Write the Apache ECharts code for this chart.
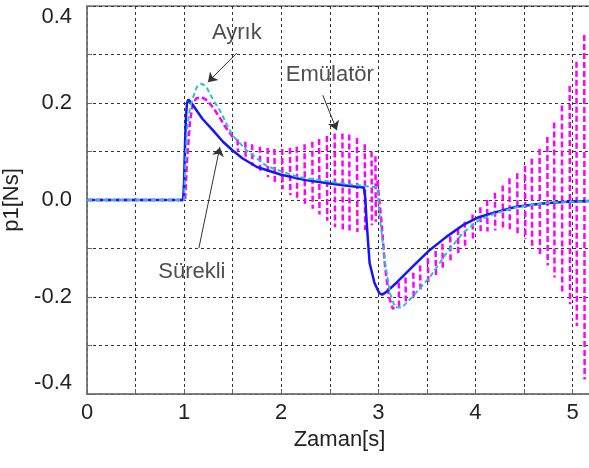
<!DOCTYPE html>
<html><head><meta charset="utf-8">
<script src="https://cdn.jsdelivr.net/npm/echarts@6/dist/echarts.min.js"></script>
<style>html,body{margin:0;padding:0;background:#fff}#c{width:589px;height:468px}</style>
</head><body><div id="c"></div>
<script>
// ---- data ----
const xTickLabels = ['0','1','2','3','4','5'];
const yTickLabels = ['-0.4','-0.2','0.0','0.2','0.4'];

const surekli = [[0,0],[0.99,0],[1.0,0.04],[1.01,0.12],[1.02,0.175],[1.03,0.2],[1.045,0.207],[1.09,0.196],[1.19,0.167],[1.3,0.143],[1.4,0.12],[1.5,0.102],[1.6,0.086],[1.75,0.068],[2.0,0.052],[2.25,0.041],[2.5,0.034],[2.7,0.029],[2.85,0.026],[2.865,0.005],[2.88,-0.047],[2.91,-0.13],[2.96,-0.171],[3.01,-0.192],[3.04,-0.195],[3.08,-0.19],[3.19,-0.17],[3.35,-0.138],[3.53,-0.103],[3.7,-0.076],[3.87,-0.052],[4.04,-0.035],[4.21,-0.025],[4.42,-0.014],[4.69,-0.007],[4.9,-0.004],[5.2,-0.002]];

const ayrik = [[0,0],[1.0,0],[1.01,0.06],[1.03,0.144],[1.06,0.19],[1.09,0.21],[1.13,0.233],[1.18,0.24],[1.23,0.233],[1.3,0.206],[1.37,0.184],[1.45,0.151],[1.5,0.133],[1.64,0.103],[1.85,0.07],[2.16,0.048],[2.6,0.035],[2.85,0.029],[2.99,0.026],[3.01,-0.027],[3.07,-0.13],[3.12,-0.192],[3.17,-0.221],[3.24,-0.222],[3.35,-0.2],[3.53,-0.159],[3.7,-0.11],[3.87,-0.068],[4.04,-0.041],[4.21,-0.027],[4.42,-0.015],[4.73,-0.006],[5.2,-0.002]];

// Emülatör: smooth parts, then oscillation columns (time, upper, lower)
const emuStart = [[0,0],[1.01,0],[1.03,0.08],[1.06,0.16],[1.09,0.2],[1.13,0.21],[1.18,0.212],[1.24,0.205],[1.3,0.19],[1.36,0.172],[1.42,0.152],[1.47,0.138],[1.52,0.125]];
const emuDrop  = [[2.99,0.04],[3.03,-0.04],[3.07,-0.14],[3.11,-0.2],[3.15,-0.225],[3.18,-0.215]];
const emuColT  = [1.55,1.63,1.70,1.78,1.86,1.93,2.01,2.09,2.16,2.24,2.32,2.39,2.47,2.55,2.63,2.70,2.78,2.86,2.93,2.97,
                  3.21,3.28,3.36,3.43,3.51,3.59,3.66,3.74,3.82,3.89,3.97,4.05,4.12,4.20,4.28,4.35,4.43,4.51,4.58,4.66,4.74,4.81,4.89,4.97,5.04,5.12];
const emuColHi = [0.125,0.12,0.115,0.11,0.107,0.105,0.105,0.107,0.11,0.115,0.12,0.126,0.132,0.137,0.137,0.135,0.128,0.115,0.1,0.09,
                  -0.17,-0.16,-0.15,-0.135,-0.12,-0.105,-0.09,-0.075,-0.06,-0.045,-0.03,-0.015,0.0,0.015,0.03,0.045,0.055,0.07,0.085,0.105,0.13,0.16,0.195,0.235,0.285,0.34];
const emuColLo = [0.1,0.085,0.07,0.058,0.047,0.035,0.022,0.01,0.002,-0.008,-0.018,-0.03,-0.043,-0.056,-0.064,-0.066,-0.066,-0.062,-0.052,-0.045,
                  -0.222,-0.215,-0.2,-0.19,-0.175,-0.16,-0.145,-0.13,-0.11,-0.095,-0.08,-0.07,-0.065,-0.063,-0.063,-0.065,-0.07,-0.08,-0.095,-0.115,-0.135,-0.16,-0.19,-0.215,-0.26,-0.37];

const annotations = [['Ayrık',1.543,0.344],['Emülatör',2.5,0.258],['Sürekli',1.08,-0.148]];
const arrows = [[[1.543,0.303],[1.245,0.243]],[[2.428,0.216],[2.572,0.144]],[[1.152,-0.099],[1.368,0.109]]];

// build the emulator polyline: smooth segments + short vertical strokes for each oscillation column
const emulator = [];
emuStart.forEach(p => emulator.push(p));
emulator.push([1.53, null]);
emuColT.forEach((t, i) => {
  if (t > 3.0 && emulator[emulator.length-1][0] < 3.0) {
    emuDrop.forEach(p => emulator.push(p));
    emulator.push([3.19, null]);
  }
  emulator.push([t, emuColHi[i]]);
  emulator.push([t + 0.004, emuColLo[i]]);
  emulator.push([t + 0.005, null]);
});

// ---- chart ----
const FONT = '"Liberation Sans", Arial, sans-serif';
const FS = 22;
const fmtY = v => { const s = (Math.round(v*10)/10).toFixed(1); return yTickLabels.includes(s) ? s : ''; };
const fmtX = v => { const s = String(Math.round(v*10)/10); return xTickLabels.includes(s) ? s : ''; };
const gridLine = {show:true, lineStyle:{color:'#333', width:1, type:[3,3]}};

const chart = echarts.init(document.getElementById('c'));
chart.setOption({
  animation:false,
  backgroundColor:'#fff',
  grid:{left:87, right:-3, top:6, bottom:74, containLabel:false, outerBoundsMode:'none',
    show:true, borderColor:'#777', borderWidth:1.5, backgroundColor:'transparent'},
  xAxis:{type:'value', min:0, max:5.2, interval:0.5,
    name:'Zaman[s]', nameLocation:'middle', nameGap:34,
    nameTextStyle:{fontFamily:FONT, fontSize:FS, color:'#222'},
    axisLine:{show:true, onZero:false, lineStyle:{color:'#777', width:1.5}},
    axisTick:{show:true, inside:true, length:5, lineStyle:{color:'#666'}},
    axisLabel:{formatter:fmtX, fontFamily:FONT, fontSize:FS, color:'#222', margin:8},
    splitLine:gridLine},
  yAxis:{type:'value', min:-0.4, max:0.4, interval:0.1,
    name:'p1[Ns]', nameLocation:'middle', nameGap:53, nameRotate:90,
    nameTextStyle:{fontFamily:FONT, fontSize:FS, color:'#222'},
    axisLine:{show:true, lineStyle:{color:'#777', width:1.5}},
    axisTick:{show:true, inside:true, length:5, lineStyle:{color:'#666'}},
    axisLabel:{formatter:fmtY, fontFamily:FONT, fontSize:FS, color:'#222', margin:15,
      verticalAlignMaxLabel:'top', verticalAlignMinLabel:'bottom'},
    splitLine:gridLine},
  series:[
    {type:'line', name:'Emülatör', data:emulator, symbol:'none', z:2, connectNulls:false,
      lineStyle:{color:'#ff00ff', width:2.5, type:[6,3]}},
    {type:'line', name:'Sürekli', data:surekli, symbol:'none', z:3,
      lineStyle:{color:'#1414ff', width:2.5}},
    {type:'line', name:'Ayrık', data:ayrik, symbol:'none', z:4,
      lineStyle:{color:'#22c4c4', width:2, type:[5,3]}},
    {type:'scatter', name:'notes', z:6, symbolSize:0, silent:true,
      data:annotations.map(a=>[a[1],a[2],a[0]]),
      label:{show:true, position:'inside', formatter:p=>p.data[2], fontFamily:FONT, fontSize:FS, color:'#222'},
      markLine:{silent:true, symbol:['none','arrow'], symbolSize:9, animation:false,
        label:{show:false}, lineStyle:{color:'#333', width:1, type:'solid'},
        data:arrows.map(a=>[{coord:a[0]},{coord:a[1]}])}}
  ]
});
</script></body></html>
